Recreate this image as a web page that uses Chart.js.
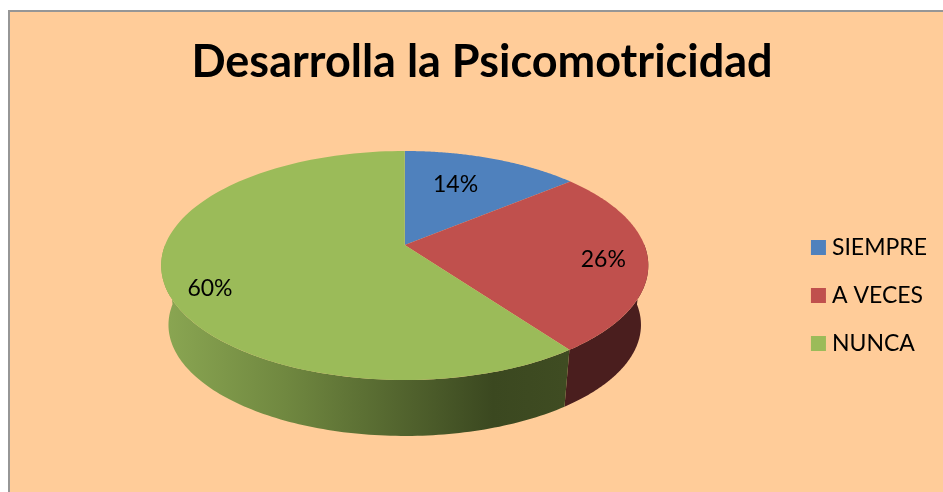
<!DOCTYPE html>
<html lang="es">
<head>
<meta charset="utf-8">
<title>Desarrolla la Psicomotricidad</title>
<script src="https://cdn.jsdelivr.net/npm/chart.js@4/dist/chart.umd.js"></script>
<style>
    html, body { margin: 0; height: 100%; background: #fff; overflow: hidden; }
    /* the chart frame runs off the right and bottom of the picture */
    .frame { position: absolute; left: 8px; top: 10px; width: 960px; height: 500px; background: #FFCC99; border-left: 2px solid #969696; border-top: 2px solid #969696; }
    canvas { position: absolute; left: 0; top: 0; }
</style>
</head>
<body>
<div class="frame"></div>
<canvas id="myChart" width="937" height="492"></canvas>
<script>
// DATA
const chartTitle= 'Desarrolla la Psicomotricidad';
const categories= ['SIEMPRE', 'A VECES', 'NUNCA'];
const percentages= [14, 26, 60];
const sliceColors= ['#4F81BD', '#C0504D', '#9BBB59'];

// 3D LOOK (canvas has no perspective, so the arcs get projected by hand)
const tilt= -0.179;         // perspective of the disc, far side is smaller
const stretchX= 1.775;      // screen size of the disc, relative to the arc radius
const stretchY= 0.821;
const shiftX= -4.5;         // chart area is not quite centred under the pie
const wallDrop= 60;
const wallShrink= 0.97;     // lower rim is a little narrower
const labelNudge= [[-23, 12], [0, 3], [1, 14]];
const redWall= '#4A1E1E';

const project= function(arc, theta, r= 1, lower= false){
    // goes from the flat pie (angle + radius) to the screen
    const u= Math.cos(theta)*r, v= Math.sin(theta)*r;
    const d= 1 + tilt*v;
    const k= lower ? wallShrink : 1;
    return {
        x: arc.x + shiftX + k*stretchX*arc.outerRadius*u/d,
        y: arc.y + k*stretchY*arc.outerRadius*v/d + (lower ? wallDrop : 0),
    };
};

// slices are still laid out by Chart.js, only the drawing of the element changes
Chart.ArcElement.prototype.draw= function(ctx){
    const center= project(this, 0, 0);
    const steps= 120;
    ctx.save();
    ctx.beginPath();
    ctx.moveTo(center.x, center.y);
    for(let i=0; i<=steps; i++){
        const p= project(this, this.startAngle + (this.endAngle-this.startAngle)*i/steps);
        ctx.lineTo(p.x, p.y);
    }
    ctx.closePath();
    ctx.fillStyle= this.options.backgroundColor;
    ctx.fill();
    ctx.restore();
};

const pieWalls= {
    id: 'pieWalls',
    beforeDatasetsDraw(chart){
        const ctx= chart.ctx;
        const steps= 200;
        chart.getDatasetMeta(0).data.forEach((arc, idx)=>{
            let fill= redWall;
            if(idx===2){
                // green wall goes darker towards the right
                const left= project(arc, Math.PI).x;
                fill= ctx.createLinearGradient(left, 0, left+400, 0);
                fill.addColorStop(0, '#8AA652');
                fill.addColorStop(0.3, '#708840');
                fill.addColorStop(0.82, '#3B4820');
                fill.addColorStop(1, '#3F4C22');
            }
            // small quads between the two rims, only on the side facing us
            ctx.save();
            ctx.beginPath();
            for(let i=0; i<steps; i++){
                const a= arc.startAngle + (arc.endAngle-arc.startAngle)*i/steps;
                const b= arc.startAngle + (arc.endAngle-arc.startAngle)*(i+1)/steps;
                if(Math.sin(a)<0 && Math.sin(b)<0)
                    continue;
                const p1= project(arc, a), p2= project(arc, b);
                const p3= project(arc, b, 1, true), p4= project(arc, a, 1, true);
                ctx.moveTo(p1.x, p1.y);
                ctx.lineTo(p2.x, p2.y);
                ctx.lineTo(p3.x, p3.y);
                ctx.lineTo(p4.x, p4.y);
                ctx.closePath();
            }
            ctx.fillStyle= fill;
            ctx.fill();
            ctx.restore();
        });
    },
};

const pieLabels= {
    id: 'pieLabels',
    afterDatasetsDraw(chart){
        const ctx= chart.ctx;
        ctx.save();
        ctx.font= '23px Lato';
        ctx.fillStyle= '#000';
        ctx.textAlign= 'center';
        ctx.textBaseline= 'middle';
        chart.getDatasetMeta(0).data.forEach((arc, idx)=>{
            const p= project(arc, (arc.startAngle+arc.endAngle)/2, 0.82);
            ctx.fillText(`${percentages[idx]}%`, p.x + labelNudge[idx][0], p.y + labelNudge[idx][1]);
        });
        ctx.restore();
    },
};

new Chart(document.getElementById('myChart'), {
    type: 'pie',
    data: {
        labels: categories,
        datasets: [{
            data: percentages,
            backgroundColor: sliceColors,
            borderWidth: 0,
        }],
    },
    plugins: [pieWalls, pieLabels],
    options: {
        responsive: false,
        animation: false,
        layout: {
            padding: { left: 27, bottom: 112 },
        },
        plugins: {
            title: {
                display: true,
                text: chartTitle,
                color: '#000',
                font: { family: 'Lato', size: 45, weight: 'bold' },
                padding: { top: 35, bottom: 21 },
            },
            legend: {
                position: 'right',
                align: 'end',
                labels: {
                    color: '#000',
                    font: { family: 'Lato', size: 23 },
                    usePointStyle: true,
                    pointStyle: 'rect',
                    boxWidth: 4,
                    boxHeight: 15,
                    padding: 25,
                },
            },
            tooltip: { enabled: false },
        },
    },
});
</script>
</body>
</html>
